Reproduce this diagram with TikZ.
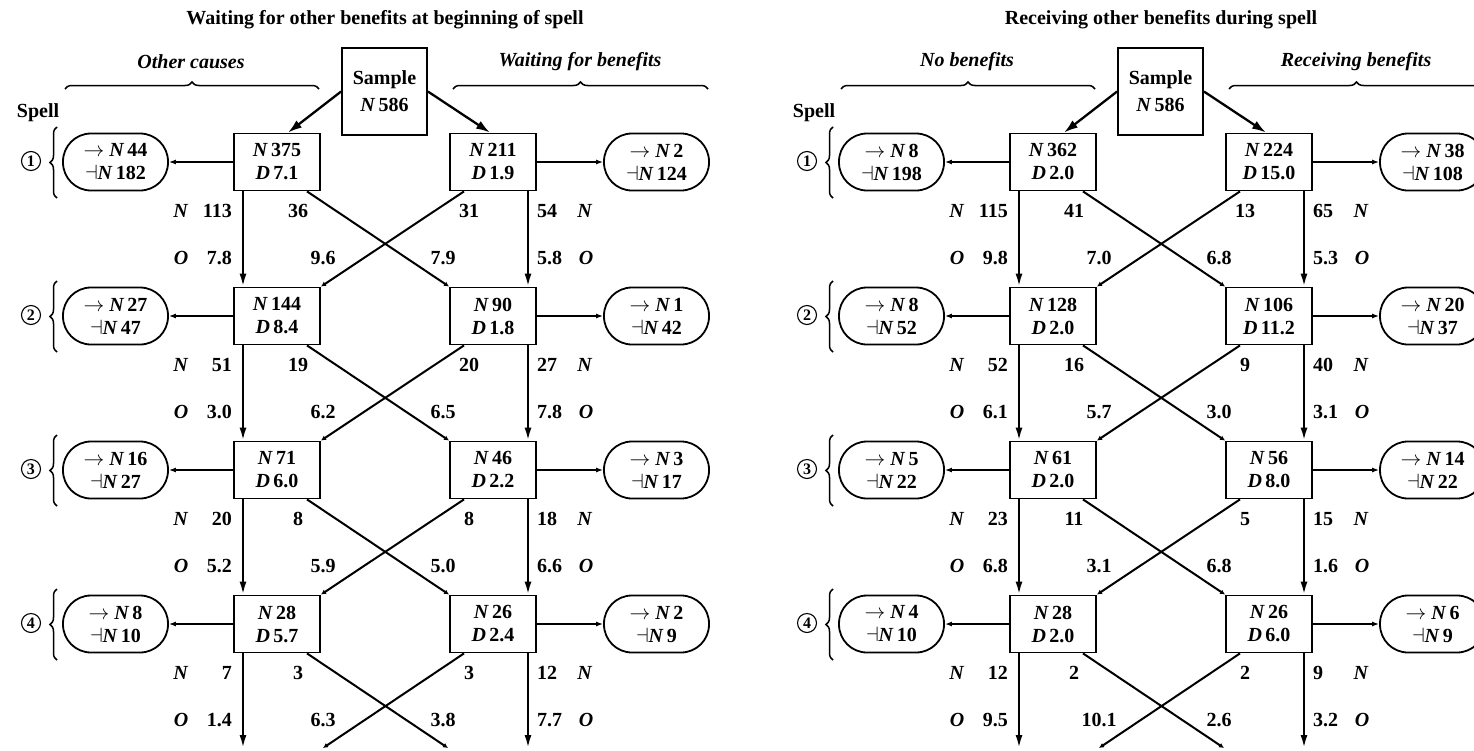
\documentclass[tikz,border=0pt]{standalone}
\usepackage{fontspec}
\setmainfont{Liberation Serif}
\usetikzlibrary{arrows.meta,decorations.pathreplacing}
\newcommand\NN[1]{\textit{N}\hspace{0.16em}#1}
\newcommand\DD[1]{\textit{D}\hspace{0.16em}#1}
\newcommand\drawpanel[7]{%
 \begin{scope}[xshift=#2]
  \node[txt] (#1-title) at (385,20) {#3};
  \node[txt] (#1-hl) at (191,62) {\textit{#4}};
  \node[txt] (#1-hr) at (580,62) {\textit{#5}};
  \draw[brc] (65,89) -- (319,89);
  \draw[brc] (453,89) -- (708,89);
  \node[sbox] (#1-S) at (384.5,91.5) {Sample\\\NN{586}};
  \node[txt] (#1-spell) at (38,113) {Spell};
  \foreach \r/\ln/\ld/\rn/\rd/\ola/\olb/\ora/\orb in {#6} {
    \pgfmathsetmacro\y{162+154*(\r-1)}
    \node[box] (#1-L\r) at (277,\y) {\NN{\ln}\\\DD{\ld}};
    \node[box] (#1-R\r) at (493,\y) {\NN{\rn}\\\DD{\rd}};
    \node[oval] (#1-OL\r) at (115.5,\y) {$\rightarrow$ \NN{\ola}\\$\dashv$\NN{\olb}};
    \node[oval] (#1-OR\r) at (656.5,\y) {$\rightarrow$ \NN{\ora}\\$\dashv$\NN{\orb}};
    \draw[side] (#1-L\r) -- (#1-OL\r);
    \draw[side] (#1-R\r) -- (#1-OR\r);
    \node[circ] (#1-c\r) at (31,\y-1) {\r};
    \draw[brc] (57,\y+36) -- (57,\y-35);
    \coordinate (#1-vl\r) at ([xshift=-34pt]#1-L\r.north);
    \coordinate (#1-vr\r) at ([xshift=35pt]#1-R\r.north);
    \coordinate (#1-cl\r) at (#1-L\r.north east);
    \coordinate (#1-cr\r) at (#1-R\r.north west);
  }
  \coordinate (#1-vl5) at (243,748);
  \coordinate (#1-vr5) at (528,748);
  \coordinate (#1-cl5) at (323,748);
  \coordinate (#1-cr5) at (448,748);
  \draw[samp] (#1-S.west) -- ([xshift=11pt]#1-L1.north);
  \draw[samp] (#1-S.east) -- ([xshift=-3pt]#1-R1.north);
  \foreach \r/\vn/\vo/\an/\ao/\bn/\bo/\wn/\wo in {#7} {
    \pgfmathsetmacro\y{162+154*(\r-1)}
    \pgfmathtruncatemacro\rr{\r+1}
    \draw[vert] ([xshift=-34pt]#1-L\r.south) -- (#1-vl\rr);
    \draw[vert] ([xshift=35pt]#1-R\r.south) -- (#1-vr\rr);
    \draw[cross] ([xshift=30pt]#1-L\r.south) -- (#1-cr\rr);
    \draw[cross] ([xshift=-29pt]#1-R\r.south) -- (#1-cl\rr);
    \node[lab] (#1-vN\r) at (181,\y+49) {\textit{N}};
    \node[lab,anchor=east] (#1-vn\r) at (232,\y+49) {\vn};
    \node[lab] (#1-vO\r) at (181,\y+96) {\textit{O}};
    \node[lab,anchor=east] (#1-vo\r) at (232,\y+96) {\vo};
    \node[lab] (#1-an\r) at (298,\y+49) {\an};
    \node[lab] (#1-ao\r) at (443,\y+96) {\ao};
    \node[lab] (#1-bn\r) at (469,\y+49) {\bn};
    \node[lab] (#1-bo\r) at (323,\y+96) {\bo};
    \node[lab,anchor=west] (#1-wn\r) at (537,\y+49) {\wn};
    \node[lab] (#1-wN\r) at (585,\y+49) {\textit{N}};
    \node[lab,anchor=west] (#1-wo\r) at (537,\y+96) {\wo};
    \node[lab] (#1-wO\r) at (586,\y+96) {\textit{O}};
  }
 \end{scope}}
\begin{document}
\begin{tikzpicture}[x=1pt,y=-1pt,
  font=\fontsize{20}{23}\selectfont\bfseries,
  txt/.style={inner sep=0pt},
  lab/.style={inner sep=0pt},
  box/.style={draw, line width=1.8pt, minimum width=86pt, minimum height=57pt, inner sep=0pt, align=center},
  sbox/.style={draw, line width=1.8pt, minimum width=85pt, minimum height=87pt, inner sep=0pt, align=center, font=\fontsize{20}{27}\selectfont\bfseries},
  oval/.style={draw, line width=1.8pt, rounded corners=28pt, minimum width=105pt, minimum height=57pt, inner sep=0pt, align=center},
  circ/.style={draw, circle, line width=1.1pt, minimum size=19pt, inner sep=0pt, font=\fontsize{16}{16}\selectfont\bfseries},
  brc/.style={line width=1.5pt, decorate, decoration={brace, amplitude=7pt}},
  vert/.style={line width=2.2pt, -{Latex[length=13pt,width=7pt]}},
  cross/.style={line width=2pt, -{Latex[length=5pt,width=5pt]}},
  side/.style={line width=1.4pt, -{Latex[length=7pt,width=5pt]}},
  samp/.style={line width=2.3pt, -{Latex[length=14pt,width=9pt]}}]
\clip (0,0) rectangle (1474,750);
\drawpanel{a}{0pt}{Waiting for other benefits at beginning of spell}{Other causes}{Waiting for benefits}%
 {1/375/7.1/211/1.9/44/182/2/124, 2/144/8.4/90/1.8/27/47/1/42, 3/71/6.0/46/2.2/16/27/3/17, 4/28/5.7/26/2.4/8/10/2/9}%
 {1/113/7.8/36/7.9/31/9.6/54/5.8, 2/51/3.0/19/6.5/20/6.2/27/7.8, 3/20/5.2/8/5.0/8/5.9/18/6.6, 4/7/1.4/3/3.8/3/6.3/12/7.7}
\drawpanel{b}{776pt}{Receiving other benefits during spell}{No benefits}{Receiving benefits}%
 {1/362/2.0/224/15.0/8/198/38/108, 2/128/2.0/106/11.2/8/52/20/37, 3/61/2.0/56/8.0/5/22/14/22, 4/28/2.0/26/6.0/4/10/6/9}%
 {1/115/9.8/41/6.8/13/7.0/65/5.3, 2/52/6.1/16/3.0/9/5.7/40/3.1, 3/23/6.8/11/6.8/5/3.1/15/1.6, 4/12/9.5/2/2.6/2/10.1/9/3.2}
\end{tikzpicture}
\end{document}
